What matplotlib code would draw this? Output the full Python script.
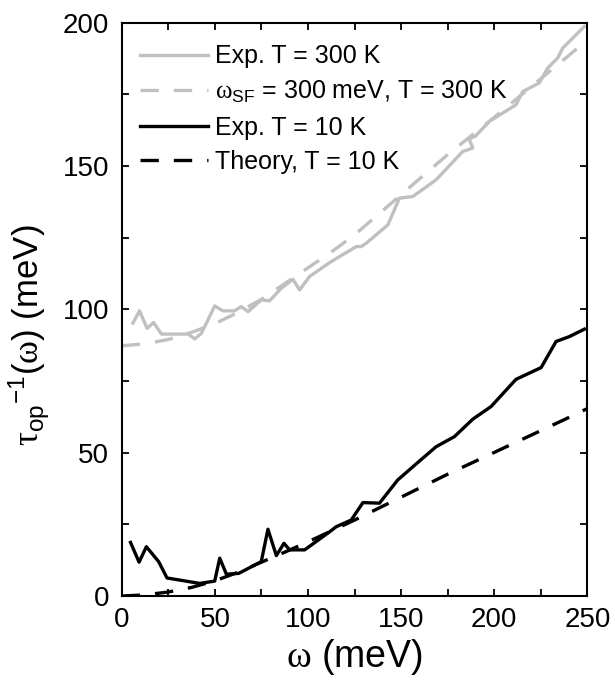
import matplotlib
matplotlib.use("Agg")
import matplotlib.pyplot as plt
from matplotlib.ticker import MultipleLocator

plt.rcParams["font.family"] = ["Liberation Sans", "DejaVu Sans"]
plt.rcParams["mathtext.fontset"] = "custom"
plt.rcParams["mathtext.rm"] = "Liberation Sans"
plt.rcParams["mathtext.it"] = "Liberation Sans"
plt.rcParams["mathtext.sf"] = "Liberation Serif"

# experiment, T = 300 K
exp300_w = [6.0, 9.5, 13.6, 17.1, 21.3, 35.6, 39.2, 42.8, 49.9, 54.3, 60.6, 64.2, 67.8,
            74.9, 79.4, 85.7, 91.9, 95.5, 100.9, 112.0, 125.9, 128.5, 131.3, 142.9, 149.1,
            156.3, 168.8, 183.1, 188.5, 186.5, 190.0, 197.4, 211.7, 215.3, 224.2, 228.7,
            234.1, 236.8, 248.4]
exp300_t = [95.2, 99.5, 93.4, 95.4, 91.4, 91.4, 89.7, 91.7, 101.2, 99.5, 99.5, 101.0, 99.2,
            103.3, 103.0, 107.4, 110.5, 106.8, 111.5, 116.5, 121.9, 121.9, 123.1, 129.5, 138.8,
            139.4, 145.2, 155.1, 156.3, 159.5, 160.5, 165.6, 171.4, 176.0, 179.0, 184.2,
            187.7, 191.2, 198.7]

# spin-fluctuation model, omega_SF = 300 meV, T = 300 K
sf300_w = [0, 12.5, 25, 37.5, 50, 62.5, 75, 87.5, 100, 112.5, 125, 137.5, 150, 162.5,
           175, 187.5, 200, 212.5, 225, 237.5, 250]
sf300_t = [87.3, 88.0, 89.5, 92.0, 95.0, 99.0, 103.5, 109.0, 114.5, 120.0, 126.0, 133.0,
           140.0, 147.0, 154.0, 160.5, 167.0, 173.7, 180.5, 187.2, 194.0]

# experiment, T = 10 K
exp10_w = [4.7, 9.3, 13.2, 19.8, 24.3, 41.8, 49.9, 52.6, 56.2, 62.8, 74.9, 78.5, 83.0,
           87.1, 90.1, 98.2, 111.6, 115.2, 123.2, 129.5, 138.4, 148.2, 158.1, 168.8,
           178.6, 188.5, 198.3, 211.7, 225.2, 233.2, 240.3, 248.4]
exp10_t = [18.7, 11.8, 17.2, 12.0, 6.3, 4.4, 5.2, 13.2, 7.6, 7.9, 12.0, 23.3, 14.1,
           18.4, 16.1, 16.1, 22.4, 24.2, 26.5, 32.6, 32.4, 40.5, 46.1, 52.1,
           55.6, 61.7, 66.1, 75.6, 79.7, 88.8, 90.5, 93.1]

# theory, T = 10 K
th10_w = [0, 12.5, 25, 37.5, 50, 62.5, 75, 87.5, 100, 112.5, 125, 137.5, 150, 162.5,
          175, 187.5, 200, 212.5, 225, 237.5, 250]
th10_t = [0.0, 0.4, 1.4, 3.0, 5.3, 8.3, 11.8, 15.3, 18.9, 22.7, 26.5, 30.5, 34.5, 38.5,
          42.5, 46.3, 50.1, 53.9, 57.7, 61.5, 65.4]

gray = "#c0c0c0"

fig = plt.figure(figsize=(6.15, 6.8), dpi=100)
ax = fig.add_axes([0.198, 0.1235, 0.757, 0.843])

ax.plot(exp300_w, exp300_t, color=gray, lw=2.4, label="Exp. T = 300 K")
ax.plot(sf300_w, sf300_t, color=gray, lw=2.4, dashes=(5.5, 4.5),
        label=r"$\mathsf{\omega}_{\rm SF}$ = 300 meV, T = 300 K")
ax.plot(exp10_w, exp10_t, color="black", lw=2.4, label="Exp. T = 10 K")
ax.plot(th10_w, th10_t, color="black", lw=2.4, dashes=(5.5, 4.5),
        label="Theory, T = 10 K")

ax.set_xlim(0, 250)
ax.set_ylim(0, 200)
ax.xaxis.set_major_locator(MultipleLocator(50))
ax.xaxis.set_minor_locator(MultipleLocator(25))
ax.yaxis.set_major_locator(MultipleLocator(50))
ax.yaxis.set_minor_locator(MultipleLocator(25))
ax.tick_params(which="both", direction="in", top=True, right=True,
               length=5, width=1.3, labelsize=20)
ax.tick_params(axis="x", pad=8)
ax.tick_params(axis="y", pad=9)
for sp in ax.spines.values():
    sp.set_linewidth(1.5)

ax.set_xlabel(r"$\mathsf{\omega}$ (meV)", fontsize=27, labelpad=3)
ax.set_ylabel(r"$\mathsf{\tau}_{\rm op}{}^{-1}(\mathsf{\omega})$ (meV)", fontsize=25)
ax.yaxis.set_label_coords(-0.15, 0.455)

ax.legend(loc="upper left", bbox_to_anchor=(-0.014, 1.006), frameon=False, fontsize=18,
          handlelength=2.7, handletextpad=0.3, labelspacing=0.42, borderaxespad=0.6)

fig.savefig("out.png", dpi=100)
